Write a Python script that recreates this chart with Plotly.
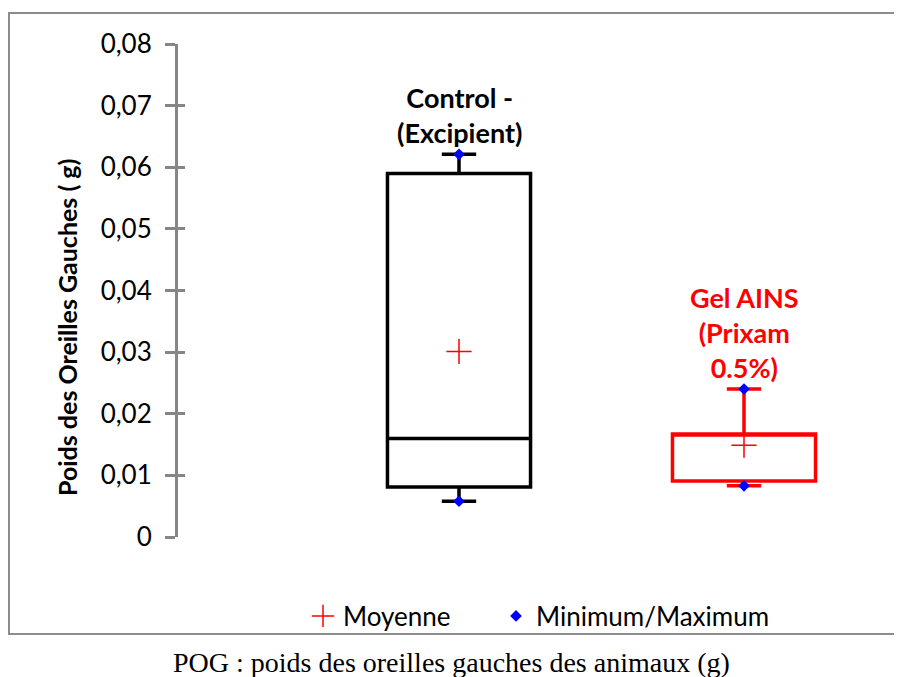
import plotly.graph_objects as go

# ---- data ----
groups = ["Control -<br>(Excipient)", "Gel AINS<br>(Prixam<br>0.5%)"]
positions = [1, 2]
q1 = [0.0081, 0.0091]
median = [0.0160, 0.0167]
q3 = [0.0590, 0.0167]
minimum = [0.0058, 0.0083]
maximum = [0.0621, 0.0240]
mean = [0.0301, 0.0149]
ytick_vals = [0, 0.01, 0.02, 0.03, 0.04, 0.05, 0.06, 0.07, 0.08]
ytick_text = ["0", "0,01", "0,02", "0,03", "0,04", "0,05", "0,06", "0,07", "0,08"]
y_title = "Poids des Oreilles Gauches ( g)"
legend_names = ["Moyenne", "Minimum/Maximum"]
caption = "POG : poids des oreilles gauches des animaux (g)"

# ---- style ----
colors = ["#000000", "#FF0000"]
W, H = 902, 677
OFF = 8  # page body margin of the browser
L, R, T, B = 170, 20, 36, 148
pw, ph = W - L - R, H - T - B
FONT = "Lato"

def px_x(p):
    return (p - OFF - L) / pw

def px_y(p):
    return (H - B - (p - OFF)) / ph

fig = go.Figure()

for i in range(len(groups)):
    fig.add_trace(go.Box(
        x=[positions[i]], q1=[q1[i]], median=[median[i]], q3=[q3[i]],
        lowerfence=[minimum[i]], upperfence=[maximum[i]],
        width=0.502, whiskerwidth=0.24,
        line=dict(color=colors[i], width=3.5),
        fillcolor="rgba(255,255,255,0)",
        boxpoints=False, showlegend=False, hoverinfo="skip",
    ))

fig.add_trace(go.Scatter(
    x=positions, y=mean, mode="markers", name=legend_names[0],
    marker=dict(symbol="cross-thin", size=18, color="red",
                line=dict(color="red", width=1.5)),
    legend="legend",
))
fig.add_trace(go.Scatter(
    x=positions + positions, y=minimum + maximum, mode="markers",
    name=legend_names[1],
    marker=dict(symbol="diamond", size=9, color="#0000FF"),
    legend="legend2",
))

for i in range(len(groups)):
    fig.add_annotation(
        x=positions[i], y=maximum[i], xref="x", yref="y",
        text="<b>" + groups[i] + "</b>", showarrow=False,
        yanchor="bottom", yshift=3,
        font=dict(family=FONT, size=27, color=colors[i]),
    )

# y-axis title
fig.add_annotation(
    x=px_x(67), y=px_y(328), xref="paper", yref="paper",
    text="<b>" + y_title + "</b>", showarrow=False, textangle=-90,
    xanchor="center", yanchor="middle",
    font=dict(family=FONT, size=25, color="black"),
)

fig.add_annotation(
    x=px_x(451), y=px_y(662), xref="paper", yref="paper",
    text=caption, showarrow=False, xanchor="center", yanchor="middle",
    font=dict(family="Liberation Serif", size=28, color="black"),
)

# outer frame
fig.add_shape(type="rect", xref="paper", yref="paper",
              x0=px_x(9), x1=px_x(915), y0=px_y(634), y1=px_y(13),
              line=dict(color="#8C8C8C", width=2), layer="below")

legend_common = dict(orientation="h", yanchor="middle", xanchor="left",
                     font=dict(family=FONT, size=26, color="black"),
                     bgcolor="rgba(0,0,0,0)")

fig.update_layout(
    width=W, height=H,
    margin=dict(l=L, r=R, t=T, b=B, autoexpand=False),
    paper_bgcolor="white", plot_bgcolor="white",
    font=dict(family=FONT, color="black"),
    xaxis=dict(range=[1 - 281 / 285, 2 + 146 / 285], visible=False,
               showgrid=False, zeroline=False),
    yaxis=dict(range=[0, 0.08], tickvals=ytick_vals, ticktext=ytick_text,
               showgrid=False, zeroline=False, showline=True,
               linecolor="#868686", linewidth=3,
               ticks="outside", ticklen=10, tickwidth=3, tickcolor="#868686",
               ticklabelstandoff=8,
               tickfont=dict(family=FONT, size=26, color="black")),
    yaxis2=dict(range=[0, 0.08], overlaying="y", side="left",
                tickvals=ytick_vals, showticklabels=False, showgrid=False,
                zeroline=False, ticks="inside", ticklen=7, tickwidth=3,
                tickcolor="#868686", showline=False),
    legend=dict(x=px_x(303), y=px_y(616), **legend_common),
    legend2=dict(x=px_x(496), y=px_y(616), **legend_common),
    showlegend=True,
)
# dummy trace to activate yaxis2 ticks
fig.add_trace(go.Scatter(x=[None], y=[None], yaxis="y2", showlegend=False,
                         hoverinfo="skip"))

fig.write_html("out.html")
